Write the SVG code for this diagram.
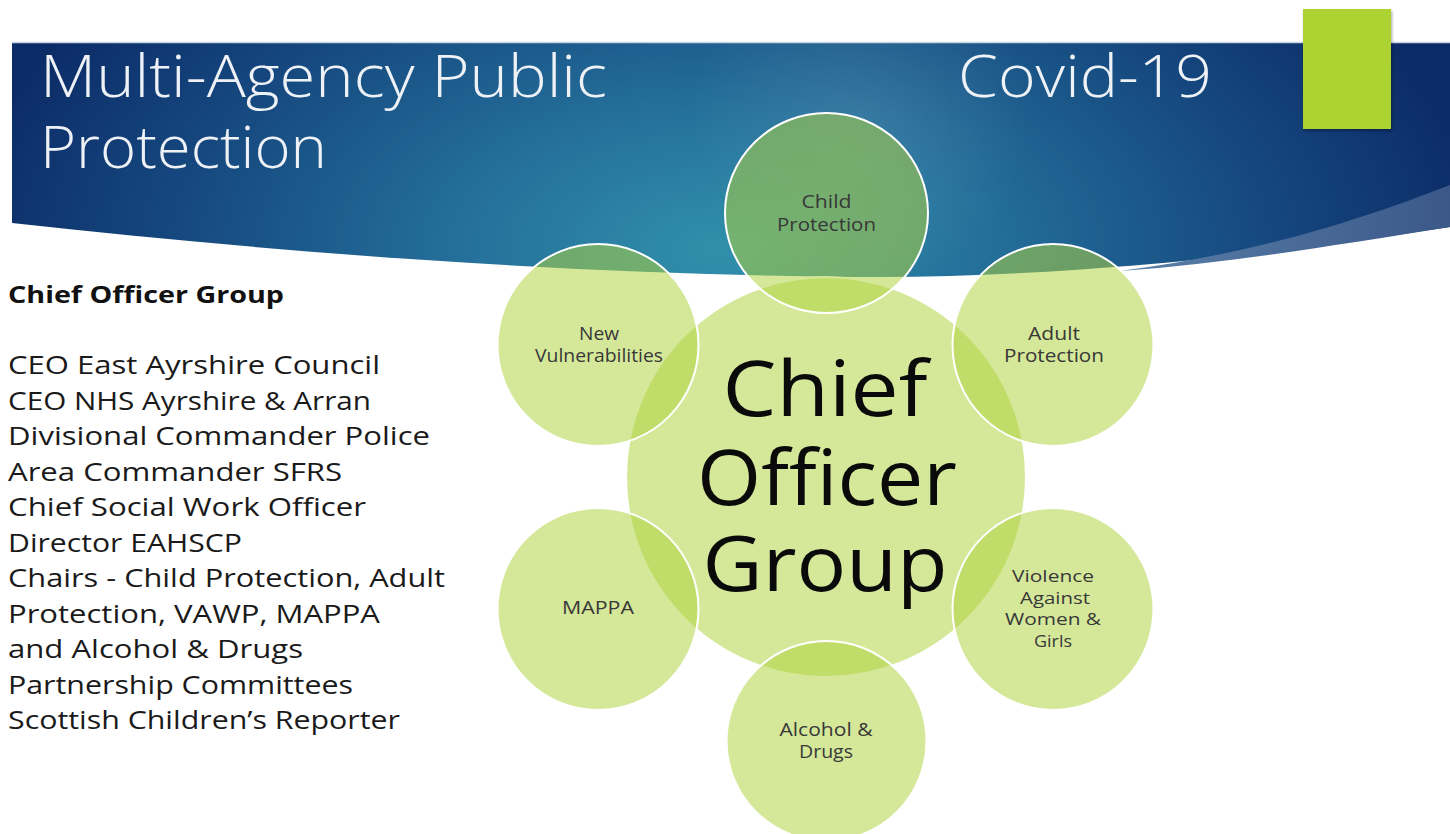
<svg xmlns="http://www.w3.org/2000/svg" width="1450" height="834" viewBox="0 0 1450 834">
<defs>
<radialGradient id="bandGrad" gradientUnits="userSpaceOnUse" cx="720" cy="250" r="760" gradientTransform="translate(720,250) scale(1,0.55) translate(-720,-250)">
<stop offset="0" stop-color="#3190ab"/>
<stop offset="0.35" stop-color="#246f9a"/>
<stop offset="0.7" stop-color="#164a80"/>
<stop offset="1" stop-color="#0c2c68"/>
</radialGradient>
<radialGradient id="hiGrad" gradientUnits="userSpaceOnUse" cx="860" cy="120" r="170">
<stop offset="0" stop-color="#ffffff" stop-opacity="0.09"/>
<stop offset="1" stop-color="#ffffff" stop-opacity="0"/>
</radialGradient>
<linearGradient id="swooshGrad" x1="0" y1="0" x2="1" y2="0">
<stop offset="0" stop-color="#5a80a8"/>
<stop offset="1" stop-color="#3b5889"/>
</linearGradient>
<filter id="shadow" x="-10%" y="-10%" width="130%" height="130%">
<feDropShadow dx="1" dy="2" stdDeviation="1.5" flood-color="#000" flood-opacity="0.35"/>
</filter>
</defs>
<style>
.title{font-family:"Open Sans","DejaVu Sans",sans-serif;font-weight:300;font-size:59px;fill:#eef2f6}
.body{font-family:"Open Sans","DejaVu Sans",sans-serif;font-size:25px;fill:#1a1a1a}
.head{font-family:"Open Sans","DejaVu Sans",sans-serif;font-size:24px;font-weight:700;fill:#111}
.bub{fill:#b0d43f;fill-opacity:0.53;stroke:#ffffff;stroke-width:2}
.lbl{font-family:"Open Sans","DejaVu Sans",sans-serif;font-size:18px;fill:#383838;text-anchor:middle}
.lbs{font-family:"Open Sans","DejaVu Sans",sans-serif;font-size:16.5px;fill:#383838;text-anchor:middle}
.big{font-family:"Open Sans","DejaVu Sans",sans-serif;font-size:76px;fill:#0a0a0a;text-anchor:middle}
</style>
<rect width="1450" height="834" fill="#ffffff"/>
<g id="header">
<path d="M12,42 L1450,42 L1450,227 C1300,250 1100,276 880,277 C600,276 300,255 12,223 Z" fill="url(#bandGrad)"/>
<path d="M12,42 L1450,42 L1450,227 C1300,250 1100,276 880,277 C600,276 300,255 12,223 Z" fill="url(#hiGrad)"/>
<path d="M1120,271 C1250,254 1350,224 1450,185 L1450,227 C1330,246 1230,263 1120,271 Z" fill="url(#swooshGrad)"/>
<line x1="12" y1="42.5" x2="1450" y2="42.5" stroke="#c9d6e2" stroke-width="1.5"/>
<rect x="1303" y="9" width="88" height="120" fill="#acd333" filter="url(#shadow)"/>
<text class="title" x="40" y="97" textLength="567" lengthAdjust="spacingAndGlyphs">Multi-Agency Public</text>
<text class="title" x="40" y="168" textLength="287" lengthAdjust="spacingAndGlyphs">Protection</text>
<text class="title" x="958" y="97" textLength="254" lengthAdjust="spacingAndGlyphs">Covid-19</text>
</g>
<g id="members">
<text class="head" x="8" y="303" textLength="276" lengthAdjust="spacingAndGlyphs">Chief Officer Group</text>
<text class="body" x="8" y="374" textLength="372" lengthAdjust="spacingAndGlyphs">CEO East Ayrshire Council</text>
<text class="body" x="8" y="409.5" textLength="363" lengthAdjust="spacingAndGlyphs">CEO NHS Ayrshire &amp; Arran</text>
<text class="body" x="8" y="445" textLength="422" lengthAdjust="spacingAndGlyphs">Divisional Commander Police</text>
<text class="body" x="8" y="480.5" textLength="334" lengthAdjust="spacingAndGlyphs">Area Commander SFRS</text>
<text class="body" x="8" y="516" textLength="358" lengthAdjust="spacingAndGlyphs">Chief Social Work Officer</text>
<text class="body" x="8" y="551.5" textLength="234" lengthAdjust="spacingAndGlyphs">Director EAHSCP</text>
<text class="body" x="8" y="587" textLength="437" lengthAdjust="spacingAndGlyphs">Chairs - Child Protection, Adult</text>
<text class="body" x="8" y="622.5" textLength="372" lengthAdjust="spacingAndGlyphs">Protection, VAWP, MAPPA</text>
<text class="body" x="8" y="658" textLength="295" lengthAdjust="spacingAndGlyphs">and Alcohol &amp; Drugs</text>
<text class="body" x="8" y="693.5" textLength="345" lengthAdjust="spacingAndGlyphs">Partnership Committees</text>
<text class="body" x="8" y="729" textLength="392" lengthAdjust="spacingAndGlyphs">Scottish Children’s Reporter</text>
</g>
<g id="connectors"></g>
<g id="chief-officer-group">
<ellipse class="bub" cx="826" cy="477" rx="200" ry="200"/>
</g>
<g id="child-protection">
<ellipse class="bub" cx="826.5" cy="213" rx="101.5" ry="100"/>
<text class="lbl" x="826.5" y="208" textLength="50" lengthAdjust="spacingAndGlyphs">Child</text>
<text class="lbl" x="826.5" y="231" textLength="99" lengthAdjust="spacingAndGlyphs">Protection</text>
</g>
<g id="new-vulnerabilities">
<ellipse class="bub" cx="598" cy="345" rx="100.5" ry="101"/>
<text class="lbl" x="599" y="340" textLength="40" lengthAdjust="spacingAndGlyphs">New</text>
<text class="lbl" x="599" y="362" textLength="128" lengthAdjust="spacingAndGlyphs">Vulnerabilities</text>
</g>
<g id="adult-protection">
<ellipse class="bub" cx="1053" cy="345" rx="100.5" ry="101"/>
<text class="lbl" x="1054" y="340" textLength="52" lengthAdjust="spacingAndGlyphs">Adult</text>
<text class="lbl" x="1054" y="362" textLength="100" lengthAdjust="spacingAndGlyphs">Protection</text>
</g>
<g id="mappa">
<ellipse class="bub" cx="598" cy="609" rx="100.5" ry="101"/>
<text class="lbl" x="598" y="614" textLength="72" lengthAdjust="spacingAndGlyphs">MAPPA</text>
</g>
<g id="vawg">
<ellipse class="bub" cx="1053" cy="609" rx="100.5" ry="101"/>
<text class="lbs" x="1053" y="582" textLength="82" lengthAdjust="spacingAndGlyphs">Violence</text>
<text class="lbs" x="1055" y="604" textLength="70" lengthAdjust="spacingAndGlyphs">Against</text>
<text class="lbs" x="1053" y="625" textLength="96" lengthAdjust="spacingAndGlyphs">Women &amp;</text>
<text class="lbs" x="1053" y="647" textLength="38" lengthAdjust="spacingAndGlyphs">Girls</text>
</g>
<g id="alcohol-drugs">
<ellipse class="bub" cx="826.5" cy="741" rx="100" ry="100"/>
<text class="lbl" x="826" y="736" textLength="93" lengthAdjust="spacingAndGlyphs">Alcohol &amp;</text>
<text class="lbl" x="826" y="758" textLength="54" lengthAdjust="spacingAndGlyphs">Drugs</text>
</g>
<g id="chief-officer-group-label">
<text class="big" x="825" y="416" textLength="205" lengthAdjust="spacingAndGlyphs">Chief</text>
<text class="big" x="827" y="505" textLength="260" lengthAdjust="spacingAndGlyphs">Officer</text>
<text class="big" x="825" y="591" textLength="245" lengthAdjust="spacingAndGlyphs">Group</text>
</g>
</svg>
